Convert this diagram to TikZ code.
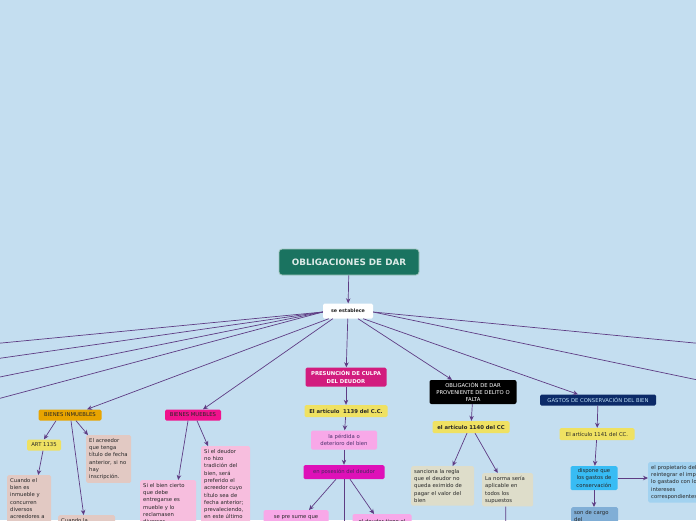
\documentclass[tikz,border=0pt]{standalone}
\usepackage{fontspec}
\setmainfont{DejaVu Sans}
\usetikzlibrary{arrows.meta, positioning}

\definecolor{bgcol}{HTML}{C4DEF0}
\definecolor{linkcol}{HTML}{5E3C84}
\definecolor{titlecol}{HTML}{1A7360}
\definecolor{orangecol}{HTML}{E8A400}
\definecolor{yellowcol}{HTML}{EFE162}
\definecolor{rosecol}{HTML}{E2C9C3}
\definecolor{hotpink}{HTML}{F0128C}
\definecolor{palepink}{HTML}{F7BEDE}
\definecolor{culpacol}{HTML}{D21C7E}
\definecolor{lilapink}{HTML}{F8A8E8}
\definecolor{posecol}{HTML}{DE10B8}
\definecolor{beigecol}{HTML}{DEDDCA}
\definecolor{navycol}{HTML}{0C2A68}
\definecolor{cyancol}{HTML}{38BCF4}
\definecolor{skycol}{HTML}{A2D2F0}
\definecolor{greyblue}{HTML}{80AED6}

\newcommand{\mapfont}{\fontsize{5.3}{7.3}\selectfont}

\tikzset{
  mapbox/.style={rectangle, rounded corners=1.5pt, inner sep=2pt, font=\mapfont, align=center, text=black!85},
  textbox/.style={mapbox, anchor=north west, align=left, inner sep=3pt},
  link/.style={draw=linkcol, line width=0.7pt, -{Stealth[length=5pt,width=4.5pt]}},
}

\begin{document}
\begin{tikzpicture}[x=1pt, y=-1pt]
\useasboundingbox (0,0) rectangle (696,520);
\fill[bgcol] (0,0) rectangle (696,520);
\clip (0,0) rectangle (696,520);

% centre
\node[mapbox, fill=titlecol, draw=titlecol!40!white, line width=0.8pt, rounded corners=3pt, text={titlecol!15!white},
  font=\fontsize{8.8}{10}\selectfont\bfseries, minimum width=140, minimum height=26] (obl) at (349,262) {OBLIGACIONES DE DAR};
\node[mapbox, fill=white, font=\fontsize{4.8}{6}\selectfont\bfseries, minimum width=50, minimum height=15] (est) at (348,311) {se establece};
\draw[link] (obl) -- (est);

% branches that leave the picture
\foreach \n/\px/\py in {l1/-40/347, l2/-40/364, l3/-40/385, l4/-40/409, r1/736/347, r2/736/388} {
  \coordinate (\n) at (\px,\py);
}
\foreach \n in {l1, l2, l3, l4} \draw[link] ([yshift=-1pt]est.west) -- (\n);
\foreach \n in {r1, r2} \draw[link] ([yshift=-1pt]est.east) -- (\n);

% bienes inmuebles
\node[mapbox, fill=orangecol, minimum width=63, minimum height=11] (inm) at (70,415) {BIENES INMUEBLES};
\node[mapbox, fill=yellowcol, minimum width=34, minimum height=11] (art35) at (44,445) {ART 1135};
\node[textbox, fill=rosecol, text width=39] (acre) at (86,435) {El acreedor\\que tenga\\título de fecha\\anterior, si no\\hay\\inscripción.};
\node[textbox, fill=rosecol, text width=38] (cuan) at (7,475) {Cuando el\\bien es\\inmueble y\\concurren\\diversos\\acreedores a\\quienes el};
\node[textbox, fill=rosecol, text width=51] (cuan2) at (58,515) {Cuando la};
\draw[link] ([xshift=-14pt]inm.south) -- (art35.north);
\draw[link] ([xshift=6pt]inm.south) -- ([xshift=2pt]acre.north west);
\draw[link] ([xshift=1pt]inm.south) -- ([xshift=-3pt]cuan2.north);
\draw[link] ([xshift=-1pt]art35.south) -- ([xshift=9pt]cuan.north);

% bienes muebles
\node[mapbox, fill=hotpink, minimum width=56, minimum height=11] (mue) at (193,415) {BIENES MUEBLES};
\node[textbox, fill=palepink, text width=50] (sibien) at (140,480) {Si el bien cierto\\que debe\\entregarse es\\mueble y lo\\reclamasen\\diversos};
\node[textbox, fill=palepink, text width=43] (sideu) at (201,446) {Si el deudor\\no hizo\\tradición del\\bien, será\\preferido el\\acreedor cuyo\\título sea de\\fecha anterior;\\prevaleciendo,\\en este último\\caso};
\draw[link] ([xshift=-5pt]mue.south) -- ([xshift=10pt]sibien.north);
\draw[link] ([xshift=4pt]mue.south) -- ([xshift=7pt]sideu.north west);

% presuncion de culpa
\node[mapbox, fill=culpacol, text=white, font=\mapfont\bfseries, minimum width=81, minimum height=19] (culpa) at (346,377) {PRESUNCIÓN DE CULPA\\DEL DEUDOR};
\node[mapbox, fill=yellowcol, font=\mapfont\bfseries, minimum width=83, minimum height=12] (art39) at (346,411) {El artículo~ 1139 del C.C.};
\node[mapbox, fill=lilapink, text=linkcol!80!black, minimum width=66, minimum height=19] (perd) at (344,440) {la pérdida o\\deterioro del bien};
\node[mapbox, fill=posecol, text=linkcol!70!black, minimum width=81, minimum height=14] (pose) at (344,472) {en posesión del deudor};
\node[mapbox, fill=lilapink, anchor=north, minimum width=65, minimum height=14] (presu) at (296,510) {se pre sume que};
\node[mapbox, fill=lilapink, anchor=north, minimum width=59, minimum height=14] (tiene) at (382,514) {el deudor tiene el};
\coordinate (pdown) at (344,540);
\draw[link] (est) -- (culpa);
\draw[link] (culpa) -- (art39);
\draw[link] (art39) -- (perd);
\draw[link] (perd) -- (pose);
\draw[link] ([xshift=-8pt]pose.south) -- ([xshift=13pt]presu.north);
\draw[link] ([xshift=6pt]pose.south) -- ([xshift=-8pt]tiene.north);
\draw[link] (pose) -- (pdown);

% delito o falta
\node[mapbox, fill=black, text=white, rounded corners=2pt, minimum width=87, minimum height=24] (deli) at (473,392) {OBLIGACIÓN DE DAR\\PROVENIENTE DE DELITO O\\FALTA};
\node[mapbox, fill=yellowcol, font=\mapfont\bfseries, minimum width=77, minimum height=12] (art40) at (471,427) {el artículo 1140 del CC};
\node[textbox, fill=beigecol, text width=57] (sanc) at (411,466) {sanciona la regla\\que el deudor no\\queda eximido de\\pagar el valor del\\bien};
\node[textbox, fill=beigecol, text width=45] (norma) at (482,473) {La norma sería\\aplicable en\\todos los\\supuestos};
\coordinate (ndown) at (506,540);
\draw[link] (deli) -- (art40);
\draw[link] ([xshift=-4pt]art40.south) -- ([xshift=10pt]sanc.north);
\draw[link] ([xshift=4pt]art40.south) -- ([xshift=-10pt]norma.north);
\draw[link] ([xshift=-2pt]norma.south) -- (ndown);

% gastos de conservacion
\node[mapbox, fill=navycol, text=skycol!70!white, minimum width=116, minimum height=11] (gast) at (598,400) {GASTOS DE CONSERVACIÓN DEL BIEN};
\node[mapbox, fill=yellowcol, minimum width=75, minimum height=12] (art41) at (597,434) {El artículo 1141 del CC.};
\node[mapbox, fill=cyancol, minimum width=47, minimum height=24] (disp) at (594,478) {dispone que\\los gastos de\\conservación};
\node[textbox, fill=skycol, text width=60] (prop) at (648,462) {el propietario debe\\reintegrar el importe\\lo gastado con los\\intereses\\correspondientes};
\node[textbox, fill=greyblue, text width=41] (cargo) at (571,507) {son de cargo\\del};
\draw[link] (gast) -- (art41);
\draw[link] (art41) -- (disp);
\draw[link] (disp) -- (prop.west |- disp);
\draw[link] (disp) -- (cargo.north -| disp);

% links from "se establece"
\draw[link] ([xshift=6pt]est.south west) -- ([xshift=17pt]inm.north);
\draw[link] ([xshift=10pt]est.south west) -- ([xshift=10pt]mue.north);
\draw[link] ([xshift=10pt]est.south) -- ([xshift=-21pt]deli.north);
\draw[link] ([xshift=-10pt]est.south east) -- ([xshift=-20pt]gast.north);
\end{tikzpicture}
\end{document}
